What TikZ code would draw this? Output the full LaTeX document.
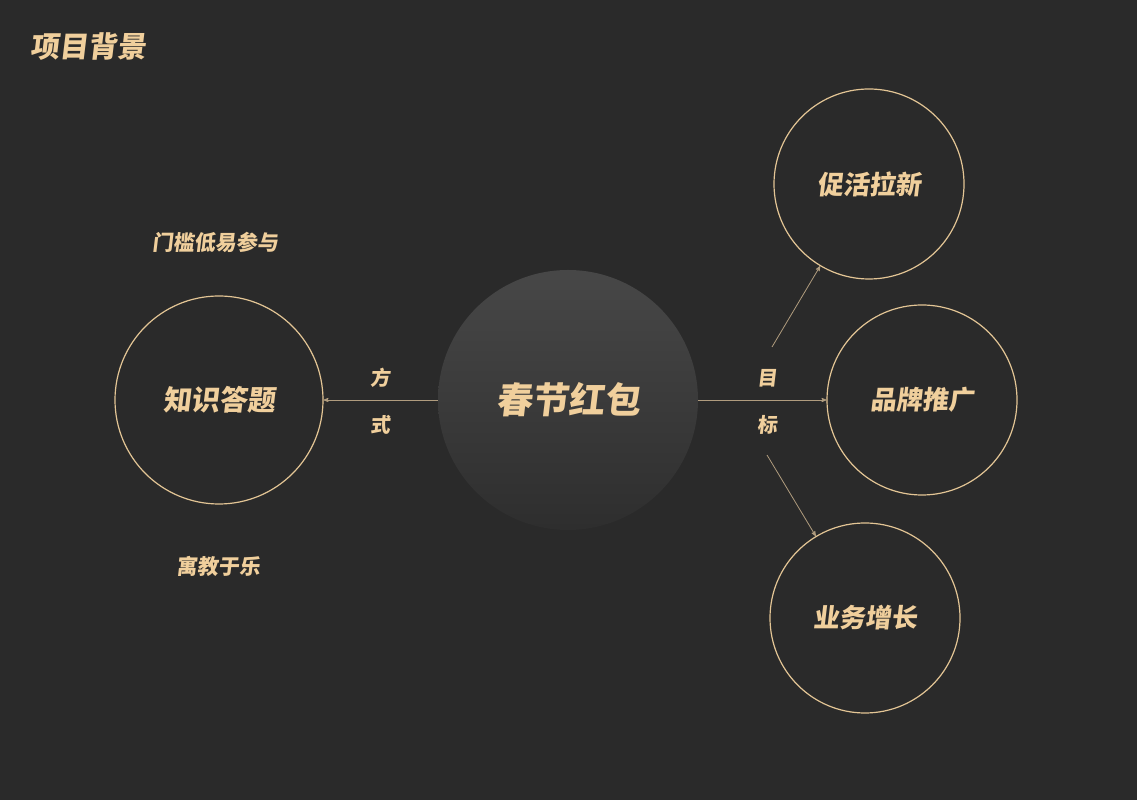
\documentclass[tikz,border=0pt]{standalone}
\usepackage{fontspec}
\usepackage{xcolor}
\usetikzlibrary{arrows}
\newfontfamily\cjk[FakeSlant=0.12]{Noto Sans CJK SC}
\definecolor{bgdark}{HTML}{2A2A2A}
\definecolor{gold}{HTML}{F0CF9C}
\definecolor{ring}{HTML}{E3C595}
\definecolor{linkgold}{HTML}{B09C7E}

\begin{document}
\begin{tikzpicture}[x=1pt,y=1pt,->,>=stealth',semithick]
  \tikzstyle{every node}=[text=gold,font=\cjk\bfseries]
  \tikzstyle{topic}=[circle,draw=ring,line width=1.2pt,inner sep=0pt]
  \tikzstyle{link}=[draw=linkgold,line width=0.8pt]

  \fill[bgdark] (0,0) rectangle (1137,800);
  \useasboundingbox (0,0) rectangle (1137,800);

  \node (T) at (88,753) {\fontsize{29}{33}\selectfont 项目背景};

  \node[circle,inner sep=0pt,minimum size=260pt,top color=black!72,bottom color=black!82,draw=none]
       (C) at (568,400) {\fontsize{36}{42}\selectfont 春节红包};

  \node[topic,minimum size=208pt] (Q) at (219,400) {\fontsize{28}{32}\selectfont 知识答题};
  \node[topic,minimum size=190pt] (A) at (869,616) {\fontsize{26}{30}\selectfont 促活拉新};
  \node[topic,minimum size=190pt] (B) at (922,400) {\fontsize{26}{30}\selectfont 品牌推广};
  \node[topic,minimum size=190pt] (G) at (865,182) {\fontsize{26}{30}\selectfont 业务增长};

  \node (Q1) at (215,558) {\fontsize{21}{25}\selectfont 门槛低易参与};
  \node (Q2) at (218,234) {\fontsize{21}{25}\selectfont 寓教于乐};

  \node (F1) at (380,422) {\fontsize{20}{24}\selectfont 方};
  \node (F2) at (380,375) {\fontsize{20}{24}\selectfont 式};
  \node (M1) at (767,422) {\fontsize{20}{24}\selectfont 目};
  \node (M2) at (767,375) {\fontsize{20}{24}\selectfont 标};

  \coordinate (ua) at (772,453);
  \coordinate (la) at (767,345);

  \path (C) edge [link] (Q)
        (C) edge [link] (B)
        (ua) edge [link] (A)
        (la) edge [link] (G);
\end{tikzpicture}
\end{document}
